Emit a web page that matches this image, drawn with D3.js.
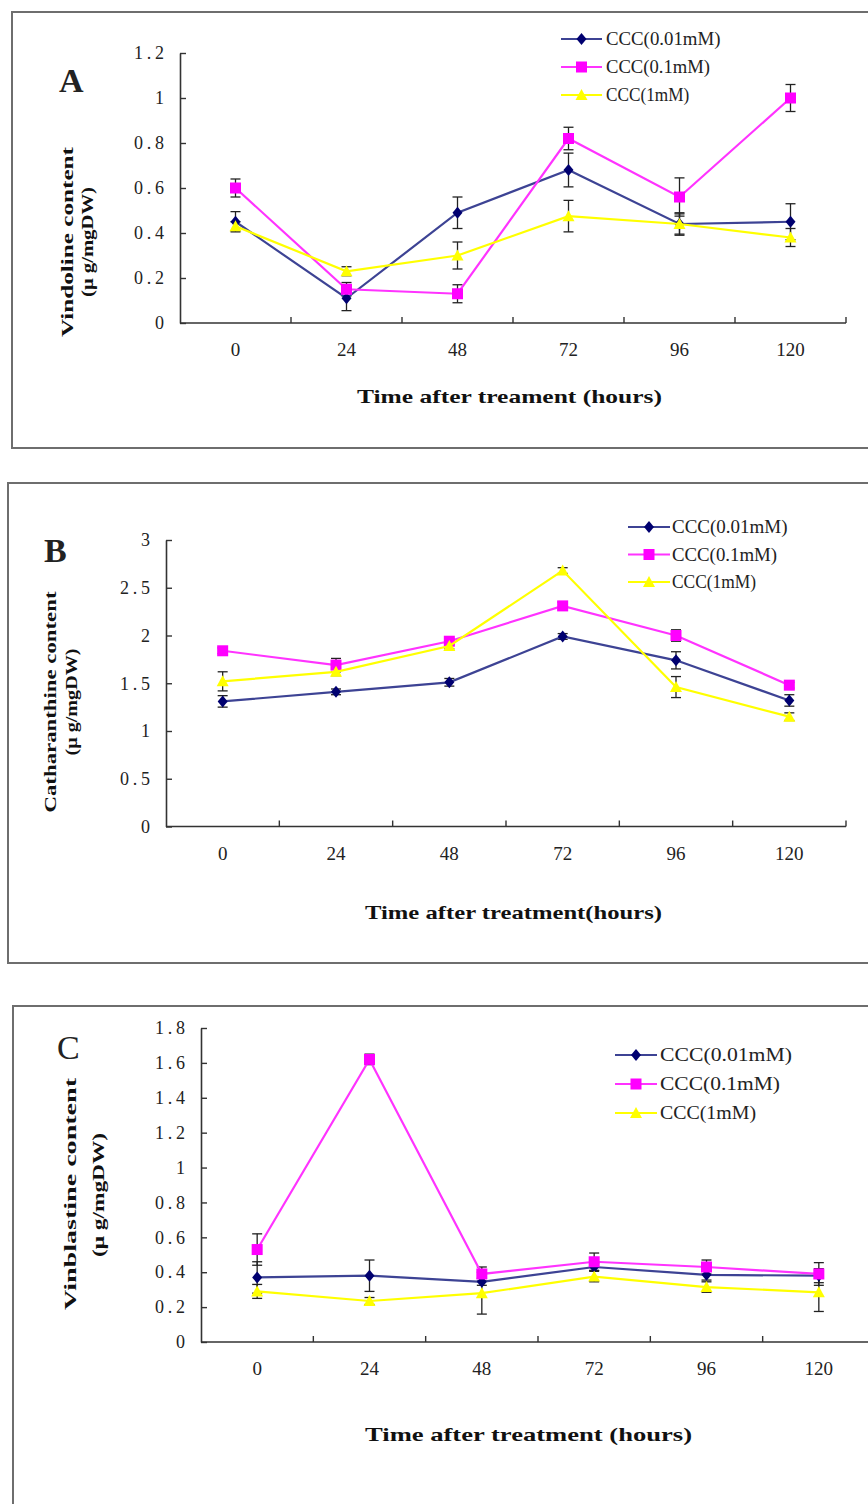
<!DOCTYPE html>
<html lang="en">
<head>
  <meta charset="UTF-8" />
  <title>CCC treatment time course</title>
  <script src="https://d3js.org/d3.v7.min.js"></script>
  <style>
    body {
      margin: 0;
      background: #fff;
      font-family: "Liberation Serif", "DejaVu Serif", serif;
    }
    svg { display: block; }
  </style>
</head>
<body>

<svg width="868" height="1504"></svg>

<script>
  // categories and series
  const hours = ["0", "24", "48", "72", "96", "120"];
  const seriesNames = ["CCC(0.01mM)", "CCC(0.1mM)", "CCC(1mM)"];

  // A: vindoline
  const vindolineLow = [0.45, 0.11, 0.49, 0.68, 0.44, 0.45];
  const vindolineLowErr = [0.045, 0.055, 0.07, 0.075, 0.05, 0.08];
  const vindolineMid = [0.60, 0.15, 0.13, 0.82, 0.56, 1.00];
  const vindolineMidErr = [0.04, 0.03, 0.04, 0.05, 0.085, 0.06];
  const vindolineHigh = [0.43, 0.23, 0.30, 0.475, 0.44, 0.38];
  const vindolineHighErr = [0.02, 0.02, 0.06, 0.07, 0.045, 0.04];

  // B: catharanthine
  const catharanthineLow = [1.31, 1.41, 1.51, 1.99, 1.74, 1.32];
  const catharanthineLowErr = [0.06, 0.03, 0.04, 0.03, 0.09, 0.06];
  const catharanthineMid = [1.84, 1.69, 1.94, 2.31, 2.00, 1.48];
  const catharanthineMidErr = [0.03, 0.07, 0.03, 0.04, 0.06, 0.03];
  const catharanthineHigh = [1.52, 1.62, 1.89, 2.68, 1.46, 1.15];
  const catharanthineHighErr = [0.10, 0.04, 0.03, 0.03, 0.11, 0.04];

  // C: vinblastine
  const vinblastineLow = [0.37, 0.38, 0.345, 0.43, 0.385, 0.38];
  const vinblastineLowErr = [0.09, 0.09, 0.02, 0.02, 0.03, 0.04];
  const vinblastineMid = [0.53, 1.62, 0.39, 0.46, 0.43, 0.39];
  const vinblastineMidErr = [0.09, 0.03, 0.04, 0.05, 0.04, 0.065];
  const vinblastineHigh = [0.29, 0.235, 0.28, 0.375, 0.315, 0.285];
  const vinblastineHighErr = [0.04, 0.02, 0.12, 0.03, 0.03, 0.11];

  const lineColors = ["#3d4394", "#ff33ff", "#ffff00"];
  const markColors = ["#000070", "#ff00ff", "#ffff00"];

  const svg = d3.select("svg");

  const panels = [
    {
      letter: "A", letterBold: true, lx: 59, ly: 92,
      frame: { x: 12, y: 12, h: 436 },
      xr: [180, 846], yr: [323, 53], ymax: 1.2, step: 0.2,
      yl: [{ t: "Vindoline content", x: 67, cy: 242, len: 190 },
           { t: "(μ g/mgDW)", x: 87, cy: 242, len: 110 }],
      title: "Time after treament (hours)", tx: 357, tlen: 305, ty: 403,
      leg: { x1: 561, x2: 602, tx: 606, y0: 39, dy: 28, pc: 10.4 },
      series: [[vindolineLow, vindolineLowErr], [vindolineMid, vindolineMidErr], [vindolineHigh, vindolineHighErr]]
    },
    {
      letter: "B", letterBold: true, lx: 44, ly: 562,
      frame: { x: 8, y: 483, h: 480 },
      xr: [166, 846], yr: [826.5, 540], ymax: 3, step: 0.5,
      yl: [{ t: "Catharanthine content", x: 50, cy: 702, len: 221 },
           { t: "(μ g/mgDW)", x: 71, cy: 702, len: 107 }],
      title: "Time after treatment(hours)", tx: 365, tlen: 297, ty: 919,
      leg: { x1: 628, x2: 670, tx: 672, y0: 527, dy: 27.5, pc: 10.5 },
      series: [[catharanthineLow, catharanthineLowErr], [catharanthineMid, catharanthineMidErr], [catharanthineHigh, catharanthineHighErr]]
    },
    {
      letter: "C", letterBold: false, lx: 57, ly: 1059,
      frame: { x: 13, y: 1006, h: 600 },
      xr: [201, 875], yr: [1342, 1028], ymax: 1.8, step: 0.2,
      yl: [{ t: "Vinblastine content", x: 70, cy: 1194, len: 232 },
           { t: "(μ g/mgDW)", x: 98, cy: 1195, len: 124 }],
      title: "Time after treatment (hours)", tx: 365, tlen: 327, ty: 1441,
      leg: { x1: 615, x2: 657, tx: 660, y0: 1055, dy: 29, pc: 12 },
      series: [[vinblastineLow, vinblastineLowErr], [vinblastineMid, vinblastineMidErr], [vinblastineHigh, vinblastineHighErr]]
    }
  ];

  function marker(sel, k, color) {
    if (k === 0) {
      sel.append("path").attr("d", "M0,-6L5,0L0,6L-5,0Z").attr("fill", color);
    } else if (k === 1) {
      sel.append("rect").attr("x", -5.5).attr("y", -5.5).attr("width", 11).attr("height", 11).attr("fill", color);
    } else {
      sel.append("path").attr("d", "M0,-6L6,5L-6,5Z").attr("fill", color);
    }
  }

  panels.forEach(p => {
    // frame
    svg.append("rect")
      .attr("x", p.frame.x).attr("y", p.frame.y)
      .attr("width", 900).attr("height", p.frame.h)
      .attr("fill", "none").attr("stroke", "#6e6e6e").attr("stroke-width", 2);

    const x = d3.scaleBand().domain(hours).range(p.xr);
    const y = d3.scaleLinear().domain([0, p.ymax]).range(p.yr);
    const bw = x.bandwidth();
    const cx = h => x(h) + bw / 2;

    // y axis
    const ticks = d3.range(0, p.ymax + p.step / 2, p.step);
    const yAxis = svg.append("g")
      .attr("transform", `translate(${p.xr[0]},0)`)
      .call(d3.axisLeft(y).tickValues(ticks).tickSizeInner(-6).tickSizeOuter(0).tickPadding(16)
        .tickFormat(d => d3.format("~g")(+d.toFixed(2))));
    yAxis.select(".domain").attr("stroke", "#333").attr("stroke-width", 1.6);
    yAxis.selectAll(".tick line").attr("stroke", "#333").attr("stroke-width", 1.4);
    yAxis.selectAll(".tick text")
      .attr("font-family", "Liberation Serif, serif").attr("font-size", 18).attr("fill", "#222")
      .each(function () {
        const s = d3.select(this).text();
        if (s.length > 1) d3.select(this).attr("textLength", s.length * 10).attr("lengthAdjust", "spacing");
      });

    // x axis line, edge ticks, labels
    svg.append("line")
      .attr("x1", p.xr[0]).attr("x2", p.xr[1]).attr("y1", p.yr[0]).attr("y2", p.yr[0])
      .attr("stroke", "#333").attr("stroke-width", 1.6);
    svg.selectAll(null).data(hours).enter().append("line")
      .attr("x1", d => x(d) + bw).attr("x2", d => x(d) + bw)
      .attr("y1", p.yr[0]).attr("y2", p.yr[0] - 6)
      .attr("stroke", "#333").attr("stroke-width", 1.4);
    const xAxis = svg.append("g")
      .attr("transform", `translate(0,${p.yr[0]})`)
      .call(d3.axisBottom(x).tickSize(0).tickPadding(20));
    xAxis.select(".domain").remove();
    xAxis.selectAll(".tick text")
      .attr("font-family", "Liberation Serif, serif").attr("font-size", 19).attr("fill", "#222");

    // panel letter
    svg.append("text")
      .attr("x", p.lx).attr("y", p.ly)
      .attr("font-family", "Liberation Serif, serif")
      .attr("font-size", 34)
      .attr("font-weight", p.letterBold ? "bold" : "normal")
      .attr("fill", "#222")
      .text(p.letter);

    // y title (two lines)
    p.yl.forEach(l => {
      svg.append("text")
        .attr("transform", `translate(${l.x},${l.cy}) rotate(-90)`)
        .attr("text-anchor", "middle")
        .attr("dominant-baseline", "central")
        .attr("font-family", "Liberation Serif, serif")
        .attr("font-size", 17).attr("font-weight", "bold").attr("fill", "#111")
        .attr("textLength", l.len).attr("lengthAdjust", "spacingAndGlyphs")
        .text(l.t);
    });

    // x title
    svg.append("text")
      .attr("x", p.tx).attr("y", p.ty)
      .attr("font-family", "Liberation Serif, serif")
      .attr("font-size", 19).attr("font-weight", "bold").attr("fill", "#111")
      .attr("textLength", p.tlen).attr("lengthAdjust", "spacingAndGlyphs")
      .text(p.title);

    // error bars
    p.series.forEach(([vals, errs]) => {
      const g = svg.append("g").attr("stroke", "#222").attr("stroke-width", 1.3);
      hours.forEach((h, i) => {
        const lo = y(vals[i] - errs[i]), hi = y(vals[i] + errs[i]);
        g.append("line").attr("x1", cx(h)).attr("x2", cx(h)).attr("y1", lo).attr("y2", hi);
        g.append("line").attr("x1", cx(h) - 5).attr("x2", cx(h) + 5).attr("y1", lo).attr("y2", lo);
        g.append("line").attr("x1", cx(h) - 5).attr("x2", cx(h) + 5).attr("y1", hi).attr("y2", hi);
      });
    });

    // lines and markers
    p.series.forEach(([vals], k) => {
      const line = d3.line().x((d, i) => cx(hours[i])).y(d => y(d));
      svg.append("path").datum(vals)
        .attr("d", line).attr("fill", "none")
        .attr("stroke", lineColors[k]).attr("stroke-width", 2.2);
      vals.forEach((v, i) => {
        marker(svg.append("g").attr("transform", `translate(${cx(hours[i])},${y(v)})`), k, markColors[k]);
      });
    });

    // legend
    seriesNames.forEach((name, k) => {
      const ly = p.leg.y0 + k * p.leg.dy;
      svg.append("line")
        .attr("x1", p.leg.x1).attr("x2", p.leg.x2).attr("y1", ly).attr("y2", ly)
        .attr("stroke", lineColors[k]).attr("stroke-width", 2.2);
      marker(svg.append("g").attr("transform", `translate(${(p.leg.x1 + p.leg.x2) / 2},${ly})`), k, markColors[k]);
      svg.append("text")
        .attr("x", p.leg.tx).attr("y", ly)
        .attr("dominant-baseline", "central")
        .attr("font-family", "Liberation Serif, serif")
        .attr("font-size", 18).attr("fill", "#222")
        .attr("textLength", name.length * p.leg.pc).attr("lengthAdjust", "spacingAndGlyphs")
        .text(name);
    });
  });
</script>

</body>
</html>
